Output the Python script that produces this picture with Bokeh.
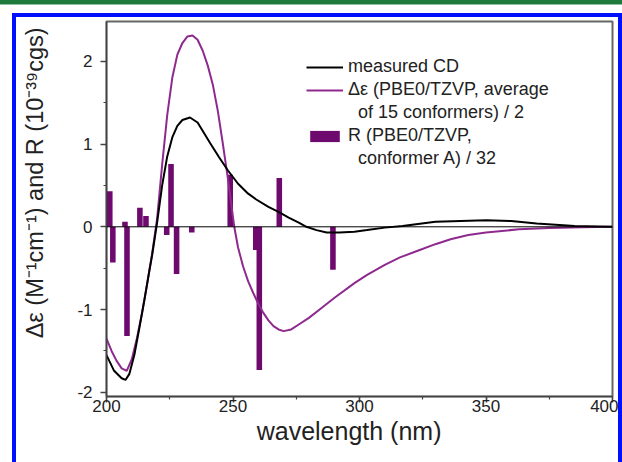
from bokeh.plotting import figure
from bokeh.models import (Range1d, SingleIntervalTicker, Span, Legend, LegendItem,
                          CustomJSTickFormatter)
from bokeh.embed import file_html
from bokeh.resources import INLINE

# measured CD spectrum (wavelength nm, delta epsilon)
cd_wl = [200, 203, 206, 207.5, 209, 211, 213, 215, 217, 218, 220, 222, 224, 226, 228,
         230, 233, 236, 238, 241, 244.5, 248, 252, 256, 259.2, 264, 268, 272, 276, 279,
         283, 287, 292, 298, 303, 310, 317, 330, 340, 350, 360, 370, 385, 400]
cd_val = [-1.55, -1.74, -1.83, -1.85, -1.78, -1.55, -1.22, -0.88, -0.52, -0.35, 0.05, 0.50,
          0.85, 1.08, 1.22, 1.29, 1.32, 1.26, 1.16, 1.01, 0.84, 0.68, 0.52, 0.40, 0.33,
          0.24, 0.18, 0.11, 0.05, 0.00, -0.04, -0.07, -0.07, -0.06, -0.04, -0.01, 0.01,
          0.06, 0.07, 0.08, 0.07, 0.04, 0.01, 0.00]

# calculated spectrum (PBE0/TZVP, average of 15 conformers) / 2
calc_wl = [200, 202, 204, 206, 208, 210, 212, 214, 216, 218, 220, 222, 224, 226, 228, 230,
           232, 234, 236, 238, 240, 242, 244, 246, 248, 250.5, 252, 254, 256, 258, 260,
           262, 264, 266, 268, 270, 273, 276, 280, 285, 290, 298, 303, 310, 316, 323,
           330, 336, 343, 350, 363, 375, 388, 400]
calc_val = [-1.35, -1.50, -1.62, -1.71, -1.74, -1.60, -1.35, -1.05, -0.70, -0.33, 0.10,
            0.75, 1.35, 1.80, 2.08, 2.22, 2.30, 2.31, 2.26, 2.13, 1.95, 1.72, 1.40, 1.00,
            0.58, 0.00, -0.25, -0.48, -0.66, -0.80, -0.93, -1.04, -1.13, -1.20, -1.24,
            -1.26, -1.24, -1.18, -1.10, -0.98, -0.86, -0.68, -0.58, -0.46, -0.37, -0.29,
            -0.21, -0.15, -0.10, -0.07, -0.03, -0.015, -0.005, 0.0]

# rotational strengths, conformer A / 32
bar_wl = [201.3, 202.5, 207.3, 208.1, 213.2, 215.6, 223.8, 225.5, 227.7, 233.7,
          248.9, 259.0, 260.4, 268.3, 289.5]
bar_R = [0.43, -0.43, 0.06, -1.32, 0.23, 0.13, -0.10, 0.76, -0.57, -0.07,
         0.63, -0.28, -1.73, 0.59, -0.52]

x_ticks_interval = 50
y_ticks_interval = 1

FONT = "Liberation Sans"
PURPLE_LINE = "#8e2a8e"
PURPLE_BAR = "#6e0a6e"
NB = "\u00a0"

p = figure(width=602, height=445, output_backend="svg", toolbar_location=None,
           x_range=Range1d(200, 400), y_range=Range1d(-2.05, 2.48),
           min_border_left=90, min_border_right=14, min_border_top=4, min_border_bottom=70)

# blue frame round the figure and the green rule at the very top of the page
p.styles = {
    "box-sizing": "content-box",
    "margin-left": "12px",
    "margin-top": "13px",
    "border-left": "4px solid #0010ff",
    "border-top": "4px solid #0010ff",
    "border-right": "4px solid #0010ff",
    "border-bottom": "0px none",
    "box-shadow": "0 3.5px 0 12px #ffffff, 0 -1px 0 12px #1e7a3c",
}

p.xgrid.visible = False
p.ygrid.visible = False
p.background_fill_color = "white"
p.border_fill_color = "white"
p.outline_line_color = "#666666"
p.outline_line_width = 2

r_bar = p.vbar(x=bar_wl, top=bar_R, bottom=0, width=2.2, fill_color=PURPLE_BAR,
               line_color=None)
r_calc = p.line(calc_wl, calc_val, line_color=PURPLE_LINE, line_width=2)
r_cd = p.line(cd_wl, cd_val, line_color="black", line_width=2)
blank = p.line(x=[], y=[], line_alpha=0)

p.add_layout(Span(location=0, dimension="width", line_color="black", line_width=1))

p.xaxis.ticker = SingleIntervalTicker(interval=x_ticks_interval, num_minor_ticks=2)
p.yaxis.ticker = SingleIntervalTicker(interval=y_ticks_interval, num_minor_ticks=2)
p.yaxis.formatter = CustomJSTickFormatter(code="return tick.toString();")

for ax in (p.xaxis[0], p.yaxis[0]):
    ax.axis_line_color = "#444444"
    ax.axis_line_width = 1.5
    ax.major_tick_line_color = "#444444"
    ax.minor_tick_line_color = "#444444"
    ax.major_tick_line_width = 1.5
    ax.minor_tick_line_width = 1.2
    ax.major_tick_in = 0
    ax.major_tick_out = 6
    ax.minor_tick_in = 0
    ax.minor_tick_out = 3
    ax.major_label_text_font = FONT
    ax.major_label_text_font_size = "17px"
    ax.major_label_text_color = "#222222"
    ax.axis_label_text_font = FONT
    ax.axis_label_text_font_style = "normal"
    ax.axis_label_text_color = "#222222"

p.xaxis.axis_label = "wavelength (nm)" + NB * 3
p.xaxis.axis_label_text_font_size = "25px"
p.xaxis.major_label_standoff = -3
p.xaxis.axis_label_standoff = 2
p.yaxis.axis_label = NB * 8 + "Δε (M⁻¹cm⁻¹) and R (10⁻³⁹cgs)"
p.yaxis.axis_label_text_font_size = "23.5px"
p.yaxis.major_label_standoff = 8
p.yaxis.axis_label_standoff = 26

legend = Legend(items=[
    LegendItem(label="measured CD", renderers=[r_cd]),
    LegendItem(label="Δε (PBE0/TZVP, average", renderers=[r_calc]),
    LegendItem(label=NB * 2 + "of 15 conformers) / 2", renderers=[blank]),
    LegendItem(label="R (PBE0/TZVP,", renderers=[r_bar]),
    LegendItem(label=NB * 2 + "conformer A) / 32", renderers=[blank]),
], location=(200, 227))
legend.background_fill_alpha = 0
legend.border_line_color = None
legend.padding = 0
legend.margin = 0
legend.spacing = 2
legend.glyph_width = 37
legend.glyph_height = 14
legend.label_height = 14
legend.label_standoff = 5
legend.label_text_font = FONT
legend.label_text_font_size = "18px"
legend.label_text_color = "#222222"
p.add_layout(legend)

open("out.html", "w").write(file_html(p, INLINE))
